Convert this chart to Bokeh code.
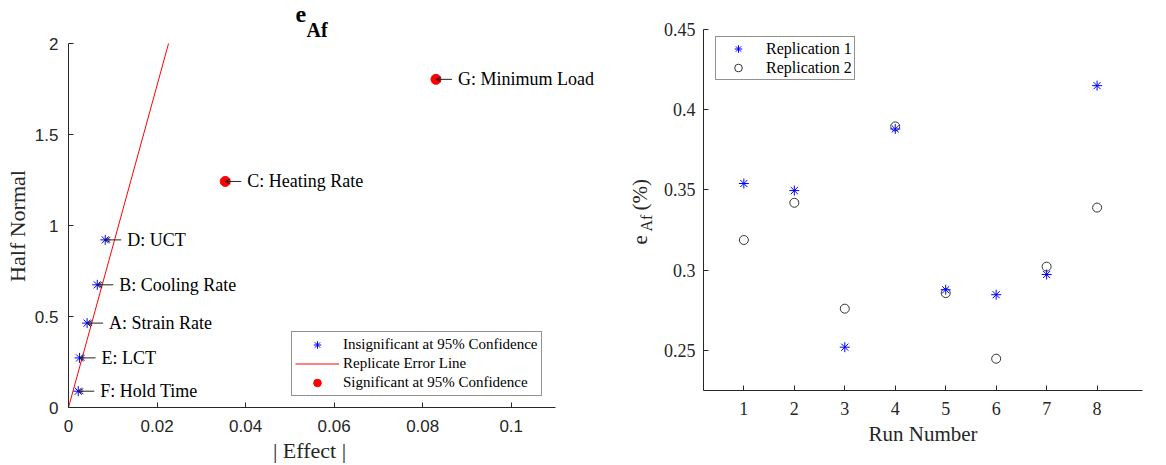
import numpy as np
from bokeh.plotting import figure
from bokeh.models import (ColumnDataSource, Legend, LegendItem, Label, LabelSet, Arrow,
                          OpenHead, FixedTicker, Range1d)
from bokeh.layouts import row
from bokeh.embed import file_html
from bokeh.resources import INLINE

# ---------------- data: left (half-normal plot) ----------------
factor_labels = ["A: Strain Rate", "B: Cooling Rate", "C: Heating Rate", "D: UCT",
                 "E: LCT", "F: Hold Time", "G: Minimum Load"]
abs_effect = [0.0042, 0.0065, 0.0354, 0.0083, 0.0025, 0.0022, 0.0830]
half_normal = [0.4637, 0.674, 1.242, 0.921, 0.2725, 0.0896, 1.803]
significant = [False, False, True, False, False, False, True]
error_line_x = [0.0, 0.0226]
error_line_y = [0.0, 2.0]
left_xticks = [0, 0.02, 0.04, 0.06, 0.08, 0.1]
left_xtick_labels = ["0", "0.02", "0.04", "0.06", "0.08", "0.1"]
left_yticks = [0, 0.5, 1, 1.5, 2]
left_ytick_labels = ["0", "0.5", "1", "1.5", "2"]
left_xlim = (0, 0.11)
left_ylim = (0, 2)

# ---------------- data: right (replications) ----------------
run_number = [1, 2, 3, 4, 5, 6, 7, 8]
replication_1 = [0.354, 0.3496, 0.252, 0.388, 0.2878, 0.2847, 0.2973, 0.415]
replication_2 = [0.3188, 0.342, 0.276, 0.3896, 0.2857, 0.2448, 0.3022, 0.339]
right_yticks = [0.25, 0.3, 0.35, 0.4, 0.45]
right_ytick_labels = ["0.25", "0.3", "0.35", "0.4", "0.45"]

SERIF = "Liberation Serif"
SANS = "Liberation Sans"
AX = "#262626"
NBSP = "\u00a0"


def style_axis(ax, font, size, standoff):
    ax.axis_line_color = AX
    ax.major_tick_line_color = AX
    ax.major_tick_in = 5
    ax.major_tick_out = 0
    ax.minor_tick_line_color = None
    ax.major_label_text_font = font
    ax.major_label_text_font_size = size
    ax.major_label_text_color = AX
    ax.major_label_standoff = standoff


# ================= LEFT FIGURE =================
# The axes box spans 487 x 364 px; the drawing area is widened to the right and
# upward (axis bounds keep the axes at their limits) so that the labels and title
# placed outside the axes box are not clipped.
L_W, L_H = 660, 465
L_LEFT, L_BOTTOM = 68, 58
AXES_W, AXES_H = 487, 364
frame_w = L_W - L_LEFT
frame_h = L_H - L_BOTTOM
x_end = left_xlim[1] * frame_w / AXES_W
y_end = left_ylim[1] * frame_h / AXES_H

p1 = figure(width=L_W, height=L_H, x_range=Range1d(left_xlim[0], x_end),
            y_range=Range1d(left_ylim[0], y_end),
            output_backend="svg", toolbar_location=None, frame_align=False,
            min_border_left=L_LEFT, min_border_right=0, min_border_top=0,
            min_border_bottom=L_BOTTOM)
p1.title.visible = False
p1.outline_line_color = None
p1.grid.visible = False

style_axis(p1.xaxis[0], SANS, "17px", 12)
style_axis(p1.yaxis[0], SANS, "17px", 10)
p1.xaxis.bounds = left_xlim
p1.yaxis.bounds = left_ylim
p1.xaxis.ticker = FixedTicker(ticks=left_xticks)
p1.yaxis.ticker = FixedTicker(ticks=left_yticks)
p1.xaxis.major_label_overrides = dict(zip(left_xticks, left_xtick_labels))
p1.yaxis.major_label_overrides = dict(zip(left_yticks, left_ytick_labels))
# labels are centred on the widened drawing area: pad them so that the visible
# text is centred on the axes box
p1.xaxis.axis_label = "| Effect |" + NBSP * 20
p1.yaxis.axis_label = "Half Normal" + NBSP * 8
for ax in (p1.xaxis[0], p1.yaxis[0]):
    ax.axis_label_text_font = SERIF
    ax.axis_label_text_font_size = "22px"
    ax.axis_label_text_font_style = "normal"
    ax.axis_label_text_color = AX
p1.xaxis.axis_label_standoff = 3
p1.yaxis.axis_label_standoff = 2

ins_x = [x for x, s in zip(abs_effect, significant) if not s]
ins_y = [y for y, s in zip(half_normal, significant) if not s]
sig_x = [x for x, s in zip(abs_effect, significant) if s]
sig_y = [y for y, s in zip(half_normal, significant) if s]

r_line = p1.line(error_line_x, error_line_y, line_color="red", line_width=1)
r_ins = p1.scatter(ins_x, ins_y, marker="asterisk", size=10, line_color="blue", line_width=1)
r_sig = p1.scatter(sig_x, sig_y, marker="circle", size=10, fill_color="red", line_color="red")

# annotation arrows + labels
px_to_data = left_xlim[1] / AXES_W
for x, y in zip(abs_effect, half_normal):
    p1.add_layout(Arrow(x_start=x + 16 * px_to_data, y_start=y, x_end=x, y_end=y,
                        line_color="#222222", line_width=1,
                        end=OpenHead(size=5, line_color="#222222", line_width=1)))
src_txt = ColumnDataSource(dict(x=abs_effect, y=half_normal, t=factor_labels))
p1.add_layout(LabelSet(x="x", y="y", text="t", source=src_txt, x_offset=22,
                       text_baseline="middle", text_align="left", text_font=SERIF,
                       text_font_size="18px", text_color="black"))

leg1 = Legend(items=[LegendItem(label="Insignificant at 95% Confidence", renderers=[r_ins]),
                     LegendItem(label="Replicate Error Line", renderers=[r_line]),
                     LegendItem(label="Significant at 95% Confidence", renderers=[r_sig])],
              location=(223, 11), glyph_width=44, glyph_height=19, label_height=19,
              label_standoff=4, spacing=0, padding=3, margin=0,
              border_line_color=AX, border_line_width=1,
              label_text_font=SERIF, label_text_font_size="15px", label_text_color="black",
              background_fill_color="white", background_fill_alpha=1)
p1.add_layout(leg1)

# title e_Af (screen coordinates relative to the drawing area's bottom-left)
p1.add_layout(Label(x=227, y=393, x_units="screen", y_units="screen", text="e",
                    text_font=SERIF, text_font_size="24px", text_font_style="bold",
                    text_baseline="alphabetic", text_align="left", text_color="black"))
p1.add_layout(Label(x=238, y=378, x_units="screen", y_units="screen", text="Af",
                    text_font=SERIF, text_font_size="20px", text_font_style="bold",
                    text_baseline="alphabetic", text_align="left", text_color="black"))

# y label of the right panel: e_Af (%) rotated (sits in this drawing area)
for txt, xx, yy, fs in [("e", 571, 163, "21px"), ("Af", 578, 176, "16px"),
                        ("(%)", 571, 197, "21px")]:
    p1.add_layout(Label(x=xx, y=yy, x_units="screen", y_units="screen", text=txt,
                        angle=90, angle_units="deg", text_font=SERIF, text_font_size=fs,
                        text_baseline="alphabetic", text_align="left", text_color=AX))

# ================= RIGHT FIGURE =================
p2 = figure(width=1166 - L_W, height=465, x_range=Range1d(0.2, 8.9),
            y_range=Range1d(0.225, 0.45),
            output_backend="svg", toolbar_location=None, frame_align=False,
            min_border_left=42, min_border_right=24, min_border_top=29, min_border_bottom=75)
p2.title.visible = False
p2.outline_line_color = None
p2.grid.visible = False
style_axis(p2.xaxis[0], SERIF, "18px", 11)
style_axis(p2.yaxis[0], SERIF, "18px", 8)
p2.xaxis.ticker = FixedTicker(ticks=run_number)
p2.yaxis.ticker = FixedTicker(ticks=right_yticks)
p2.yaxis.major_label_overrides = dict(zip(right_yticks, right_ytick_labels))
p2.xaxis.axis_label = "Run Number"
p2.xaxis.axis_label_text_font = SERIF
p2.xaxis.axis_label_text_font_size = "21px"
p2.xaxis.axis_label_text_font_style = "normal"
p2.xaxis.axis_label_text_color = AX
p2.xaxis.axis_label_standoff = 4

r_rep2 = p2.scatter(run_number, replication_2, marker="circle", size=9, fill_color=None,
                    line_color="#333333", line_width=1)
r_rep1 = p2.scatter(run_number, replication_1, marker="asterisk", size=10,
                    line_color="blue", line_width=1)

leg2 = Legend(items=[LegendItem(label="Replication 1", renderers=[r_rep1]),
                     LegendItem(label="Replication 2", renderers=[r_rep2])],
              location=(12, 310), glyph_width=40, glyph_height=19, label_height=19,
              label_standoff=8, spacing=0, padding=2, margin=0,
              border_line_color=AX, border_line_width=1,
              label_text_font=SERIF, label_text_font_size="16px", label_text_color="black",
              background_fill_color="white", background_fill_alpha=1)
p2.add_layout(leg2)

layout = row(p1, p2)
open("out.html", "w").write(file_html(layout, INLINE))
